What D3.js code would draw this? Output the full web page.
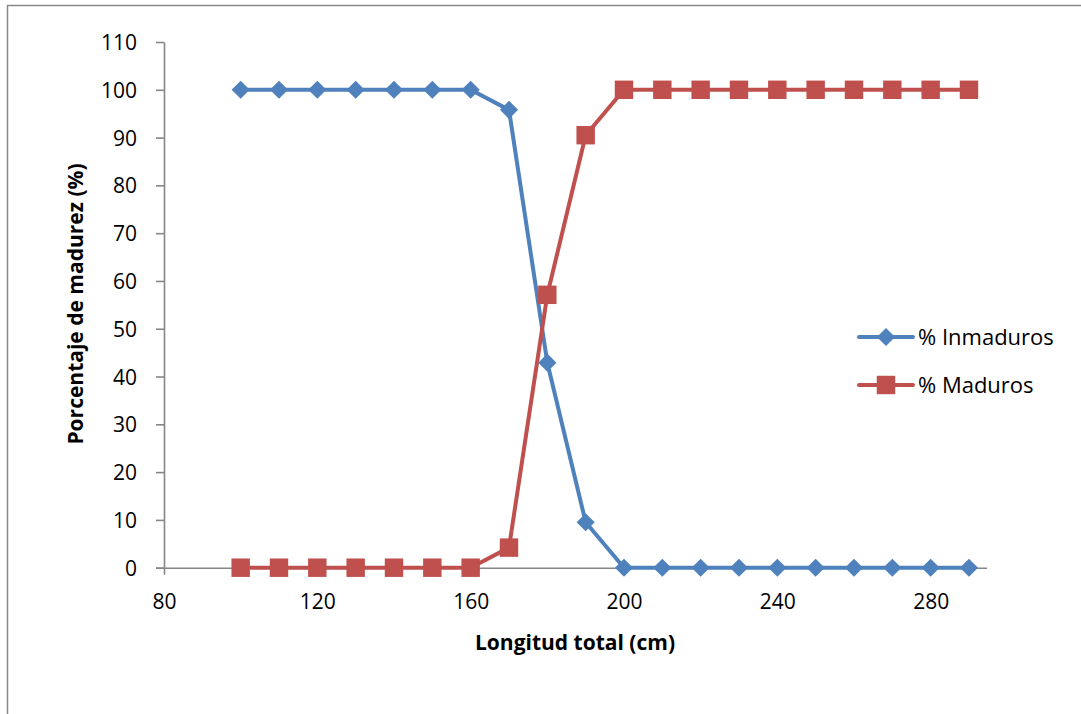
<!DOCTYPE html>
<html>
<head>
<meta charset="utf-8">
<script src="https://cdn.jsdelivr.net/npm/d3@7"></script>
<style>
    body { margin: 0; background: #fff; }
    text { font-family: "Open Sans", sans-serif; fill: #000; }
</style>
</head>
<body>
<div id="chart"></div>
<script>
// Data
const longitud = [100, 110, 120, 130, 140, 150, 160, 170, 180, 190, 200, 210, 220, 230, 240, 250, 260, 270, 280, 290];
const inmaduros = [100, 100, 100, 100, 100, 100, 100, 95.8, 42.9, 9.5, 0, 0, 0, 0, 0, 0, 0, 0, 0, 0];
const maduros = [0, 0, 0, 0, 0, 0, 0, 4.2, 57.1, 90.5, 100, 100, 100, 100, 100, 100, 100, 100, 100, 100];
const xTicks = [80, 120, 160, 200, 240, 280];
const yTicks = [0, 10, 20, 30, 40, 50, 60, 70, 80, 90, 100, 110];
const seriesNames = ["% Inmaduros", "% Maduros"];

const W = 1081, H = 714;
const margin = { top: 42, left: 164, right: 94, bottom: 147 }; // plot box
const width = W - margin.left - margin.right;
const height = H - margin.top - margin.bottom;

const svg = d3.select("#chart")
    .append("svg")
    .attr("width", W)
    .attr("height", H);

// outer frame (cut off on right and bottom like the original)
svg.append("path")
    .attr("d", `M7.5,${H + 2} L7.5,5.5 L${W + 2},5.5`)
    .attr("fill", "none")
    .attr("stroke", "#888")
    .attr("stroke-width", 1.5);

const g = svg.append("g")
    .attr("transform", `translate(${margin.left},${margin.top})`);

const x = d3.scaleLinear().domain([80, 294.7]).range([0, width]);
const y = d3.scaleLinear().domain([0, 110]).range([height + 0.7, 0]);

const axisColor = "#868686";

// x axis
const xAxis = g.append("g")
    .attr("transform", `translate(0,${y(0)})`)
    .call(d3.axisBottom(x).tickValues(xTicks).tickSize(7).tickSizeOuter(0));
xAxis.select(".domain").attr("d", `M-8,0.5H${width}`);
xAxis.selectAll(".tick text").attr("y", 41).attr("dy", 0);

// y axis
const yAxis = g.append("g")
    .call(d3.axisLeft(y).tickValues(yTicks).tickSize(8).tickSizeOuter(0));
yAxis.selectAll(".tick text").attr("x", -27).attr("dy", "0.36em");

g.selectAll(".domain, .tick line")
    .attr("stroke", axisColor)
    .attr("stroke-width", 1.6);
g.selectAll(".tick text")
    .style("font-size", "21px")
    .style("font-family", "'Open Sans', sans-serif")
    .attr("fill", "#000");

// series
const colors = ["#4F81BD", "#C0504D"];
const seriesData = [inmaduros, maduros];
const line = d3.line()
    .x((d, i) => x(longitud[i]))
    .y(d => y(d));

const diamond = d3.symbol().type(d3.symbolDiamond2).size(210);
const square = d3.symbol().type(d3.symbolSquare).size(340);

seriesData.forEach((vals, s) => {
    g.append("path")
        .datum(vals)
        .attr("fill", "none")
        .attr("stroke", colors[s])
        .attr("stroke-width", 4)
        .attr("stroke-linejoin", "round")
        .attr("d", line);
});

seriesData.forEach((vals, s) => {
    g.selectAll(".m" + s)
        .data(vals)
        .enter()
        .append("path")
        .attr("class", "m" + s)
        .attr("transform", (d, i) => `translate(${x(longitud[i])},${y(d)})`)
        .attr("d", s === 0 ? diamond() : square())
        .attr("fill", colors[s]);
});

// legend
const legend = svg.append("g");
seriesNames.forEach((name, s) => {
    const ly = 337 + s * 48;
    legend.append("line")
        .attr("x1", 859).attr("x2", 913)
        .attr("y1", ly).attr("y2", ly)
        .attr("stroke", colors[s])
        .attr("stroke-width", 4)
        .attr("stroke-linecap", "round");
    legend.append("path")
        .attr("transform", `translate(886,${ly})`)
        .attr("d", s === 0 ? diamond() : square())
        .attr("fill", colors[s]);
    legend.append("text")
        .attr("x", 918)
        .attr("y", ly)
        .attr("dy", "0.36em")
        .style("font-size", "22px")
        .text(name);
});

// axis titles
svg.append("text")
    .attr("x", 575)
    .attr("y", 650)
    .style("text-anchor", "middle")
    .style("font-size", "21px")
    .style("font-weight", "bold")
    .text("Longitud total (cm)");

svg.append("text")
    .attr("transform", "rotate(-90)")
    .attr("x", -304)
    .attr("y", 83)
    .style("text-anchor", "middle")
    .style("font-size", "21px")
    .style("font-weight", "bold")
    .text("Porcentaje de madurez (%)");
</script>
</body>
</html>
